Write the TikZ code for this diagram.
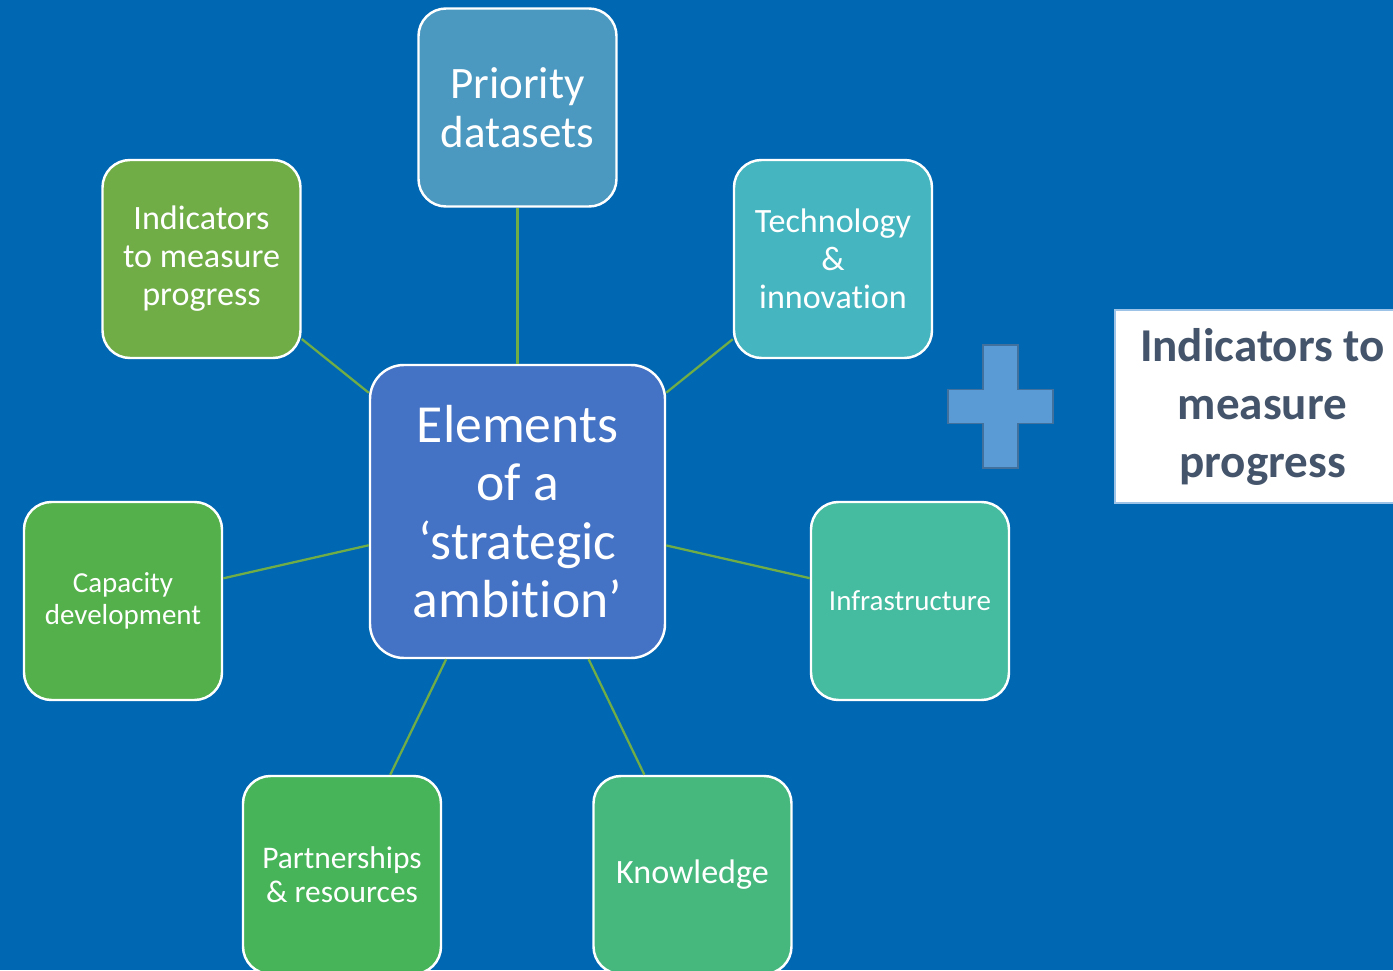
\documentclass[tikz,border=0pt]{standalone}
\usepackage{fontspec}
\setmainfont[RawFeature={-liga;-clig;-calt;-dlig}]{Carlito}
\usepackage{tikz}
\usetikzlibrary{calc}
\definecolor{bgblue}{RGB}{0,103,178}
\definecolor{centrecolor}{RGB}{68,114,196}
\definecolor{prioritycolor}{RGB}{75,152,193}
\definecolor{techcolor}{RGB}{69,181,192}
\definecolor{indicatorcolor}{RGB}{112,173,71}
\definecolor{capacitycolor}{RGB}{84,176,74}
\definecolor{infracolor}{RGB}{69,187,160}
\definecolor{partnercolor}{RGB}{71,180,90}
\definecolor{knowledgecolor}{RGB}{70,184,126}
\definecolor{linkcolor}{RGB}{112,173,71}
\definecolor{plusfill}{RGB}{91,155,213}
\definecolor{plusdraw}{RGB}{65,113,156}
\definecolor{noteframe}{RGB}{157,195,230}
\definecolor{notetext}{RGB}{68,84,106}
\tikzstyle{element} = [draw=white, line width=1.4pt, rounded corners=0.55cm, rectangle, minimum width=3.96cm, minimum height=3.96cm, text=white, align=center, inner sep=1pt]
\tikzstyle{centreblock} = [element, rounded corners=0.68cm, minimum width=5.9cm, minimum height=5.86cm]
\tikzstyle{link} = [draw=linkcolor, line width=1.3pt]
\tikzstyle{note} = [draw=noteframe, line width=1.6pt, fill=white, rectangle, minimum width=5.9cm, minimum height=3.86cm, align=center, text=notetext, font=\bfseries\fontsize{26.8}{33}\selectfont]

\begin{document}
\begin{tikzpicture}
\useasboundingbox (-10.35,-9.17) rectangle (17.51,10.23);
\fill[bgblue] (-10.35,-9.17) rectangle (17.51,10.23);

%% Centre %%
\node [centreblock, fill=centrecolor, font=\fontsize{30.5}{33.3}\selectfont] (Centre) at (0,0) {Elements\\of a\\`strategic\\ambition'};

%% Elements %%
\node [element, fill=prioritycolor, font=\fontsize{25.6}{27.9}\selectfont] (Priority) at ($(Centre)+(0,8.08)$) {Priority\\datasets};

\node [element, fill=techcolor, font=\fontsize{19.4}{21.6}\selectfont] (Technology) at ($(Centre)+(6.31,5.05)$) {Technology\\\&\\innovation};

\node [element, fill=indicatorcolor, font=\fontsize{19.4}{21.6}\selectfont] (Indicators) at ($(Centre)+(-6.32,5.05)$) {Indicators\\to measure\\progress};

\node [element, fill=capacitycolor, font=\fontsize{16.5}{18.2}\selectfont] (Capacity) at ($(Centre)+(-7.89,-1.79)$) {Capacity\\development};

\node [element, fill=infracolor, font=\fontsize{16.5}{18.2}\selectfont] (Infrastructure) at ($(Centre)+(7.85,-1.79)$) {Infrastructure};

\node [element, fill=partnercolor, font=\fontsize{17.9}{19.3}\selectfont] (Partnerships) at ($(Centre)+(-3.51,-7.27)$) {Partnerships\\\& resources};

\node [element, fill=knowledgecolor, font=\fontsize{19.4}{21.6}\selectfont] (Knowledge) at ($(Centre)+(3.5,-7.27)$) {Knowledge};

%% Plus %%
\coordinate (Plus) at ($(Centre)+(9.66,2.1)$);
\draw[fill=plusfill, draw=plusdraw, line width=0.8pt] ($(Plus)+(-0.35,1.23)$) -- ($(Plus)+(0.35,1.23)$) -- ($(Plus)+(0.35,0.34)$) -- ($(Plus)+(1.05,0.34)$) -- ($(Plus)+(1.05,-0.34)$) -- ($(Plus)+(0.35,-0.34)$) -- ($(Plus)+(0.35,-1.23)$) -- ($(Plus)+(-0.35,-1.23)$) -- ($(Plus)+(-0.35,-0.34)$) -- ($(Plus)+(-1.05,-0.34)$) -- ($(Plus)+(-1.05,0.34)$) -- ($(Plus)+(-0.35,0.34)$) -- cycle;

\node [note] (Note) at ($(Centre)+(14.9,2.1)$) {Indicators to\\measure\\progress};

%% Forbindelse %%
\draw[link] (Centre) -- (Priority);
\draw[link] (Centre) -- (Technology);
\draw[link] (Centre) -- (Indicators);
\draw[link] (Centre) -- (Capacity);
\draw[link] (Centre) -- (Infrastructure);
\draw[link] (Centre) -- (Partnerships);
\draw[link] (Centre) -- (Knowledge);
\end{tikzpicture}
\end{document}
